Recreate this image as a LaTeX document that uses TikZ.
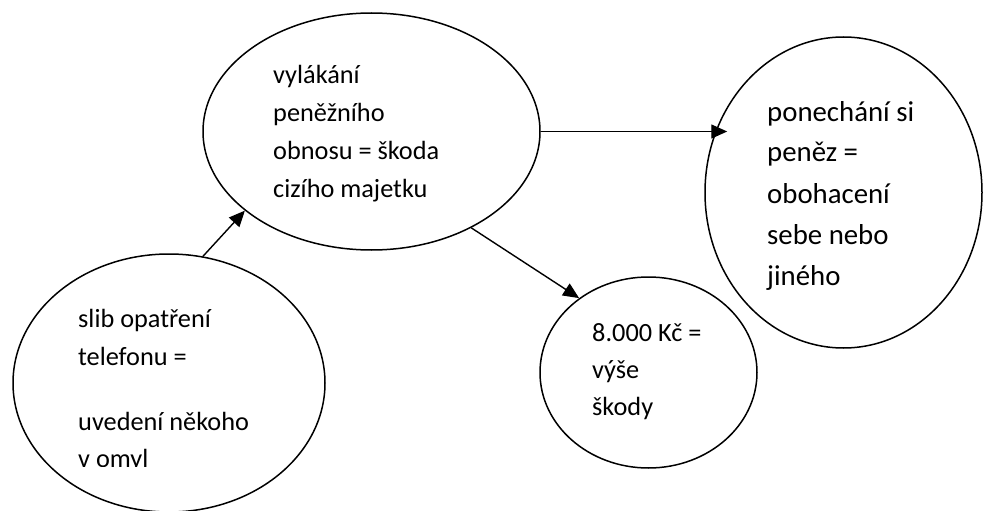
\documentclass[tikz,border=0pt]{standalone}
\usepackage{fontspec}
\setmainfont{Carlito}
\usetikzlibrary{shapes.geometric,arrows.meta}
\tikzset{
  bubble/.style={ellipse, draw, line width=1.5pt, inner sep=0pt},
  txt/.style={anchor=base west, inner sep=0pt, font=\fontsize{26.3}{38}\selectfont},
  txtbig/.style={anchor=base west, inner sep=0pt, font=\fontsize{28.8}{41}\selectfont},
  arr/.style={line width=1.4pt, -{Triangle[length=16pt,width=14pt]}}
}
\begin{document}
\begin{tikzpicture}[x=1pt,y=-1pt]
\useasboundingbox (0,0) rectangle (989,511);
% ellipses
\node[bubble, minimum width=337pt, minimum height=237pt] (top) at (371.5,131.5) {};
\node[bubble, minimum width=277pt, minimum height=311pt] (right) at (843.5,192.5) {};
\node[bubble, minimum width=312pt, minimum height=258pt] (bl) at (169,383) {};
\node[bubble, minimum width=217pt, minimum height=191pt] (small) at (648.5,372.5) {};
% texts
\node[txt] (t1) at (273,83.5) {vylákání};
\node[txt] (t2) at (273,121.5) {peněžního};
\node[txt] (t3) at (273,159) {obnosu = škoda};
\node[txt] (t4) at (273,197) {cizího majetku};
\node[txtbig] (r1) at (767,121.7) {ponechání si};
\node[txtbig] (r2) at (767,161.7) {peněz =};
\node[txtbig] (r3) at (767,203) {obohacení};
\node[txtbig] (r4) at (767,244) {sebe nebo};
\node[txtbig] (r5) at (767,285) {jiného};
\node[txt] (b1) at (78,327) {slib opatření};
\node[txt] (b2) at (78,365) {telefonu =};
\node[txt] (b3) at (78,430) {uvedení někoho};
\begin{scope}
\clip (0,0) rectangle (989,466.5);
\node[txt] (b4) at (78,467.5) {v omyl};
\end{scope}
\node[txt] (s1) at (592,341) {8.000 Kč =};
\node[txt] (s2) at (592,378) {výše};
\node[txt] (s3) at (592,415) {škody};
% connectors
\draw[arr] (bl.75) -- (top.212);
\draw[arr] (top.east) -- ([xshift=23pt]top.east -| right.west);
\draw[arr] (top.-44.7) -- (small.133);
\end{tikzpicture}
\end{document}
